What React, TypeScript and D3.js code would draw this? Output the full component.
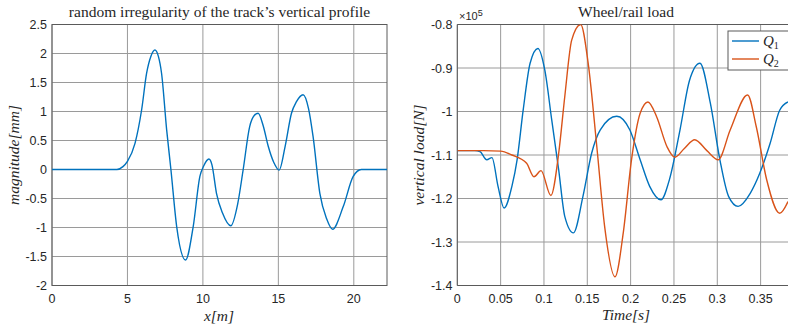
import React from 'react';
import * as d3 from 'd3';

// left panel: track irregularity, x in m, magnitude in mm
const profX = [0, 4.0, 4.3, 4.7, 5.0, 5.5, 5.94, 6.27, 6.55, 6.82, 7.05, 7.26, 7.6, 7.88, 8.26, 8.85, 9.36, 9.8, 10.05, 10.4, 10.6, 10.9, 11.3, 11.85, 12.3, 12.67, 13.1, 13.4, 13.66, 14.0, 14.33, 14.7, 15.05, 15.45, 15.87, 16.2, 16.64, 17.0, 17.3, 17.75, 18.2, 18.59, 19.3, 19.96, 20.5, 21.0, 22.2];
const profY = [0, 0, 0, 0.05, 0.14, 0.45, 1.03, 1.66, 1.95, 2.06, 1.95, 1.66, 0.68, 0, -0.98, -1.56, -0.98, -0.12, 0.06, 0.18, 0.08, -0.41, -0.75, -0.97, -0.6, 0, 0.74, 0.93, 0.97, 0.75, 0.4, 0.12, -0.01, 0.4, 0.97, 1.17, 1.29, 1.05, 0.57, -0.41, -0.85, -1.03, -0.64, -0.12, 0, 0, 0];

// right panel: wheel/rail load, time in s, load in 1e5 N
const q1T = [0, 0.02, 0.026, 0.034, 0.040, 0.047, 0.054, 0.063, 0.069, 0.076, 0.084, 0.093, 0.101, 0.109, 0.117, 0.124, 0.134, 0.145, 0.155, 0.165, 0.184, 0.199, 0.211, 0.222, 0.235, 0.245, 0.257, 0.268, 0.280, 0.292, 0.303, 0.313, 0.324, 0.338, 0.349, 0.361, 0.372, 0.3816];
const q1V = [-1.09, -1.09, -1.092, -1.111, -1.106, -1.172, -1.222, -1.172, -1.111, -0.997, -0.889, -0.855, -0.905, -1.02, -1.134, -1.241, -1.279, -1.195, -1.096, -1.042, -1.011, -1.042, -1.111, -1.172, -1.203, -1.155, -1.042, -0.928, -0.889, -0.981, -1.111, -1.195, -1.218, -1.188, -1.142, -1.073, -0.997, -0.978];
const q2T = [0, 0.03, 0.05, 0.063, 0.080, 0.0885, 0.0966, 0.108, 0.117, 0.124, 0.132, 0.1424, 0.151, 0.161, 0.170, 0.182, 0.1915, 0.201, 0.211, 0.220, 0.230, 0.242, 0.251, 0.262, 0.274, 0.288, 0.301, 0.315, 0.335, 0.345, 0.357, 0.372, 0.3816];
const q2V = [-1.09, -1.09, -1.091, -1.1, -1.119, -1.15, -1.136, -1.193, -1.096, -0.966, -0.836, -0.80, -0.889, -1.081, -1.264, -1.38, -1.279, -1.111, -1.004, -0.978, -1.012, -1.081, -1.105, -1.085, -1.065, -1.09, -1.111, -1.042, -0.962, -1.035, -1.157, -1.234, -1.207];

const profXTicks = [0, 5, 10, 15, 20];
const profYTicks = [-2, -1.5, -1, -0.5, 0, 0.5, 1, 1.5, 2, 2.5];
const loadXTicks = [0, 0.05, 0.1, 0.15, 0.2, 0.25, 0.3, 0.35];
const loadYTicks = [-1.4, -1.3, -1.2, -1.1, -1, -0.9, -0.8];

const legendNames = ['Q', 'Q'];
const blue = '#0072BD';
const orange = '#D95319';
const gridColor = '#9a9a9a';
const boxColor = '#5a5a5a';
const textColor = '#262626';
const tickFont = 'Liberation Sans, Arial, sans-serif';
const serif = 'Liberation Serif, Times New Roman, serif';

const fmt = (v: number) => String(+v.toFixed(2));

export default function App() {
  const top = 24.5, bottom = 285.5;

  const lx = d3.scaleLinear().domain([0, 22.2]).range([52, 387]);
  const ly = d3.scaleLinear().domain([-2, 2.5]).range([bottom, top]);
  const rx = d3.scaleLinear().domain([0, 0.3816]).range([457.3, 788]);
  const ry = d3.scaleLinear().domain([-1.4, -0.8]).range([bottom, top]);

  const profLine = d3.line<number>()
    .x((_, i) => lx(profX[i]))
    .y(d => ly(d))
    .curve(d3.curveMonotoneX);
  const q1Line = d3.line<number>()
    .x((_, i) => rx(q1T[i]))
    .y(d => ry(d))
    .curve(d3.curveMonotoneX);
  const q2Line = d3.line<number>()
    .x((_, i) => rx(q2T[i]))
    .y(d => ry(d))
    .curve(d3.curveMonotoneX);

  return (
    <svg width={788} height={329} style={{ position: 'absolute', left: 0, top: 0, background: '#fff' }}>
      <defs>
        <clipPath id="clipL"><rect x={52} y={top} width={335} height={bottom - top} /></clipPath>
        <clipPath id="clipR"><rect x={457.3} y={top} width={340} height={bottom - top} /></clipPath>
      </defs>

      {/* left panel */}
      <g>
        {profXTicks.map(t => (
          <line key={'lgx' + t} x1={lx(t)} x2={lx(t)} y1={top} y2={bottom} stroke={gridColor} />
        ))}
        {profYTicks.map(t => (
          <line key={'lgy' + t} x1={52} x2={387} y1={ly(t)} y2={ly(t)} stroke={gridColor} />
        ))}
        <rect x={52} y={top} width={335} height={bottom - top} fill="none" stroke={boxColor} />
        {profXTicks.map(t => (
          <text key={'lxt' + t} x={lx(t)} y={bottom + 17} textAnchor="middle" fontFamily={tickFont} fontSize={12.5} fill={textColor}>{fmt(t)}</text>
        ))}
        {profYTicks.map(t => (
          <text key={'lyt' + t} x={47} y={ly(t) + 4.5} textAnchor="end" fontFamily={tickFont} fontSize={12.5} fill={textColor}>{fmt(t)}</text>
        ))}
        <path d={profLine(profY) || ''} fill="none" stroke={blue} strokeWidth={1.4} clipPath="url(#clipL)" />
        <text x={219.5} y={17} textAnchor="middle" fontFamily={serif} fontSize={15.5} fill={textColor}>random irregularity of the track’s vertical profile</text>
        <text x={219} y={321} textAnchor="middle" fontFamily={serif} fontStyle="italic" fontSize={15.5} fill={textColor}>x[m]</text>
        <text transform={`translate(19,${(top + bottom) / 2}) rotate(-90)`} textAnchor="middle" fontFamily={serif} fontStyle="italic" fontSize={15.5} fill={textColor}>magnitude[mm]</text>
      </g>

      {/* right panel */}
      <g>
        {loadXTicks.map(t => (
          <line key={'rgx' + t} x1={rx(t)} x2={rx(t)} y1={top} y2={bottom} stroke={gridColor} />
        ))}
        {loadYTicks.map(t => (
          <line key={'rgy' + t} x1={457.3} x2={788} y1={ry(t)} y2={ry(t)} stroke={gridColor} />
        ))}
        <path d={`M790,${top}H457.3V${bottom}H790`} fill="none" stroke={boxColor} />
        {loadXTicks.map(t => (
          <text key={'rxt' + t} x={rx(t)} y={bottom + 17} textAnchor="middle" fontFamily={tickFont} fontSize={12.5} fill={textColor}>{fmt(t)}</text>
        ))}
        {loadYTicks.map(t => (
          <text key={'ryt' + t} x={452.5} y={ry(t) + 4.5} textAnchor="end" fontFamily={tickFont} fontSize={12.5} fill={textColor}>{fmt(t)}</text>
        ))}
        <text x={459} y={20} fontFamily={tickFont} fontSize={11} fill={textColor}>×10<tspan dy={-4} fontSize={9}>5</tspan></text>
        <g clipPath="url(#clipR)">
          <path d={q1Line(q1V) || ''} fill="none" stroke={blue} strokeWidth={1.4} />
          <path d={q2Line(q2V) || ''} fill="none" stroke={orange} strokeWidth={1.4} />
        </g>
        <text x={626} y={17} textAnchor="middle" fontFamily={serif} fontSize={15.5} fill={textColor}>Wheel/rail load</text>
        <text x={626} y={320} textAnchor="middle" fontFamily={serif} fontStyle="italic" fontSize={15.5} fill={textColor}>Time[s]</text>
        <text transform={`translate(424,${(top + bottom) / 2}) rotate(-90)`} textAnchor="middle" fontFamily={serif} fontStyle="italic" fontSize={15.5} fill={textColor}>vertical load[N]</text>

        {/* legend */}
        <rect x={728} y={31} width={70} height={39} fill="#fff" stroke={boxColor} />
        {legendNames.map((n, i) => (
          <g key={'leg' + i}>
            <line x1={732} x2={759} y1={41 + i * 18} y2={41 + i * 18} stroke={i === 0 ? blue : orange} strokeWidth={1.4} />
            <text x={763} y={46 + i * 18} fontFamily={serif} fontStyle="italic" fontSize={15} fill={textColor}>{n}<tspan dy={3} fontSize={10} fontStyle="normal">{i + 1}</tspan></text>
          </g>
        ))}
      </g>
    </svg>
  );
}
